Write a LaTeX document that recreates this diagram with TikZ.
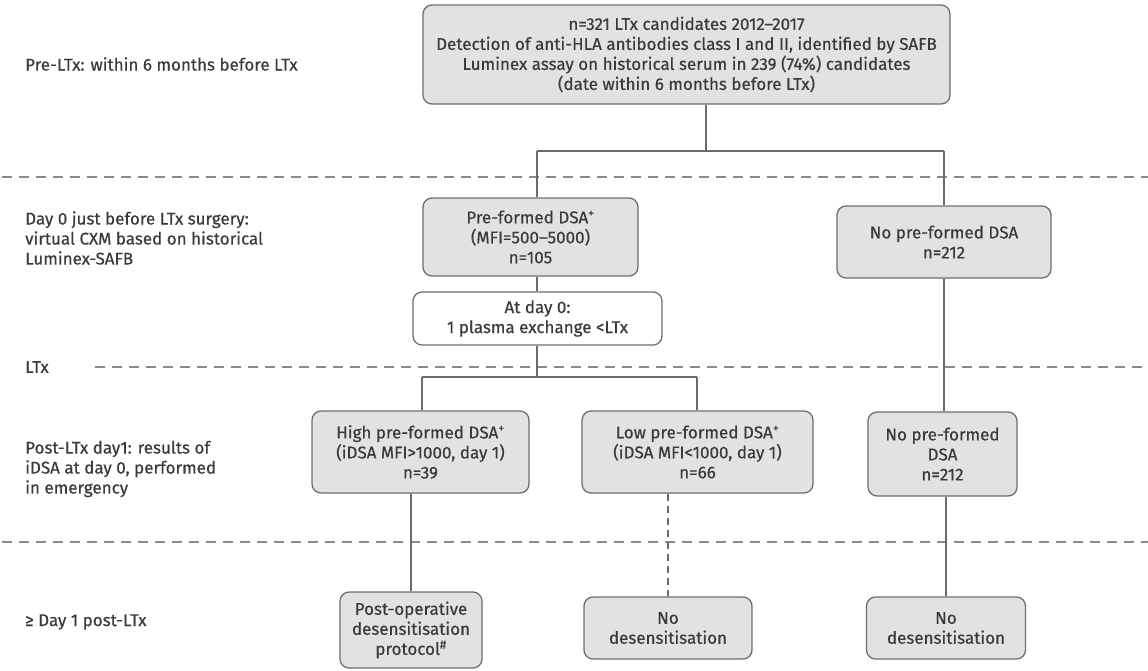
\documentclass[tikz,border=0pt]{standalone}
\usepackage{fontspec}
\setmainfont{Fira Sans}[FakeBold=0.4]
\begin{document}
\begin{tikzpicture}[x=1pt,y=-1pt,
  every node/.style={font=\fontsize{17}{20}\selectfont, text=txt},
  gbox/.style={draw=bord, fill=boxfill, rounded corners=9pt, line width=1.3pt, align=center, inner sep=0pt},
  wbox/.style={gbox, fill=white},
  lab/.style={anchor=west, align=left, inner sep=0pt},
  conn/.style={draw=conncol, line width=1.3pt},
  sep/.style={draw=sepcol, line width=1.3pt, dash pattern=on 10pt off 7pt}]
\definecolor{txt}{HTML}{3A3A3A}
\definecolor{bord}{HTML}{6E6E6E}
\definecolor{boxfill}{HTML}{E1E2E4}
\definecolor{conncol}{HTML}{6A6A6A}
\definecolor{sepcol}{HTML}{8A8A8A}
\useasboundingbox[fill=white] (0,0) rectangle (1148,670);

% separators
\coordinate (s1a) at (2,177); \coordinate (s1b) at (1148,177);
\coordinate (s2a) at (95,367); \coordinate (s2b) at (1148,367);
\coordinate (s3a) at (2,542); \coordinate (s3b) at (1148,542);
\draw[sep] (s1a) -- (s1b);
\draw[sep] (s2a) -- (s2b);
\draw[sep] (s3a) -- (s3b);

% left labels
\node[lab] (l1) at (25,64) {Pre-LTx: within 6 months before LTx};
\node[lab] (l2) at (25,238) {Day 0 just before LTx surgery:\\virtual CXM based on historical\\Luminex-SAFB};
\node[lab] (l3) at (25,367) {LTx};
\node[lab] (l4) at (25,469) {Post-LTx day1: results of\\iDSA at day 0, performed\\in emergency};
\node[lab] (l5) at (25,622) {≥ Day 1 post-LTx};

% boxes
\node[gbox, minimum width=527pt, minimum height=99pt] (top) at (686.5,54.5)
  {n=321 LTx candidates 2012--2017\\Detection of anti-HLA antibodies class I and II, identified by SAFB\\Luminex assay on historical serum in 239 (74\%) candidates\\(date within 6 months before LTx)};
\node[gbox, minimum width=215pt, minimum height=78pt] (pre) at (530.5,237)
  {Pre-formed DSA\textsuperscript{+}\\(MFI=500--5000)\\n=105};
\node[wbox, minimum width=249pt, minimum height=53pt] (day0) at (537.5,318.5)
  {At day 0:\\1 plasma exchange <LTx};
\node[gbox, minimum width=214pt, minimum height=72pt] (nopre) at (944,242)
  {No pre-formed DSA\\n=212};
\node[gbox, minimum width=217pt, minimum height=82pt] (high) at (420.5,452)
  {High pre-formed DSA\textsuperscript{+}\\(iDSA MFI>1000, day 1)\\n=39};
\node[gbox, minimum width=231pt, minimum height=82pt] (low) at (697.5,452)
  {Low pre-formed DSA\textsuperscript{+}\\(iDSA MFI<1000, day 1)\\n=66};
\node[gbox, minimum width=149pt, minimum height=84pt] (nopre2) at (942.5,454)
  {No pre-formed\\DSA\\n=212};
\node[gbox, minimum width=142pt, minimum height=76pt] (post) at (411,630)
  {Post-operative\\desensitisation\\protocol\textsuperscript{\#}};
\node[gbox, minimum width=168pt, minimum height=62pt] (nodes1) at (668,628)
  {No\\desensitisation};
\node[gbox, minimum width=159pt, minimum height=62pt] (nodes2) at (946,628)
  {No\\desensitisation};

% connectors
\coordinate (topout) at (706,104.5);
\coordinate (j1) at (706,151);
\coordinate (preL) at (537,151);
\coordinate (preR) at (944,151);
\draw[conn] (topout) -- (j1);
\draw[conn] (preL) -- (preR);
\draw[conn] (preL) -- (preL |- pre.north);
\draw[conn] (preR) -- (nopre.north);
\draw[conn] (pre.south -| preL) -- (day0.north -| preL);
\coordinate (j2) at (537,377);
\draw[conn] (day0.south -| j2) -- (j2);
\coordinate (hiT) at (422,377);
\coordinate (loT) at (697,377);
\draw[conn] (hiT) -- (loT);
\draw[conn] (hiT) -- (high.north -| hiT);
\draw[conn] (loT) -- (low.north -| loT);
\draw[conn] (nopre.south) -- (nopre2.north -| nopre.south);
\draw[conn] (high.south -| post.north) -- (post.north);
\draw[conn, dash pattern=on 7pt off 5pt] (low.south -| nodes1.north) -- (nodes1.north);
\draw[conn] (nopre2.south -| nodes2.north) -- (nodes2.north);
\end{tikzpicture}
\end{document}
